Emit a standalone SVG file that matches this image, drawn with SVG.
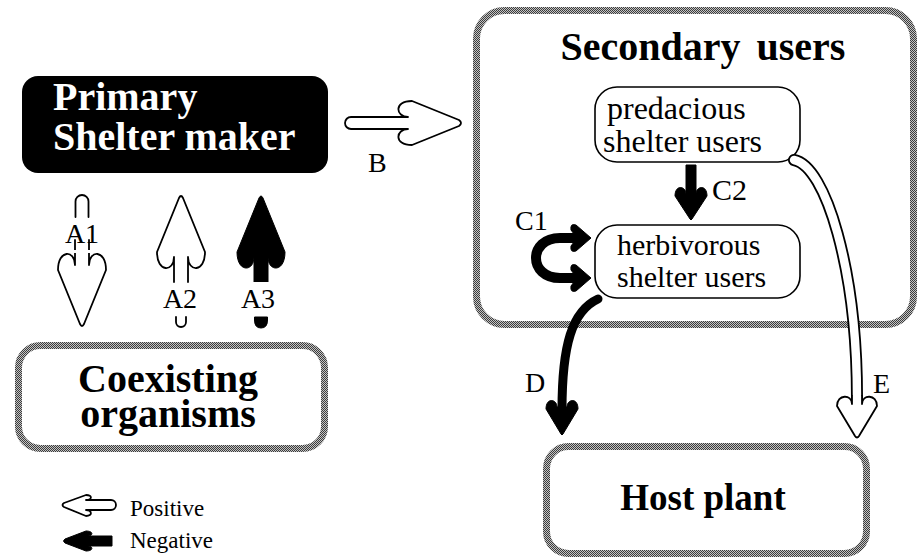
<svg xmlns="http://www.w3.org/2000/svg" width="918" height="558" viewBox="0 0 918 558">
<style>
.t{font-family:'Liberation Serif','DejaVu Serif',serif;fill:#000}
.b{font-weight:bold}
.w{fill:#fff}
.gbox{fill:#fff;stroke:url(#dither);stroke-width:7}
.sbox{fill:#fff;stroke:#000;stroke-width:1.6}
.hol{fill:#fff;stroke:#000;stroke-width:1.8;stroke-linejoin:round;stroke-linecap:round}
.neg{fill:#000;stroke:#000;stroke-width:1;stroke-linejoin:round}
.thick{fill:none;stroke:#000}
</style>
<defs>
<pattern id="dither" width="2" height="2" patternUnits="userSpaceOnUse">
<rect width="2" height="2" fill="#c4c4c4"/>
<rect width="1" height="1" fill="#3c3c3c"/>
<rect x="1" y="1" width="1" height="1" fill="#3c3c3c"/>
</pattern>
<path id="upHead" d="M -7 87 L -7 62 C -7 77 -24 78 -24 57 L -2 3 Q 0 -1 2 3 L 24 57 C 24 78 7 77 7 62 L 7 87"/>
</defs>

<g id="node-primary">
<rect x="22" y="76" width="306" height="97" rx="16" fill="#000"/>
<text class="t b w" font-family="Liberation Serif, serif" x="53" y="110" font-size="40">Primary</text>
<text class="t b w" font-family="Liberation Serif, serif" x="53" y="150" font-size="40">Shelter maker</text>
</g>

<g id="node-coexisting">
<rect class="gbox" x="18.5" y="345.5" width="306" height="103" rx="22"/>
<text class="t b" font-family="Liberation Serif, serif" x="168" y="392" font-size="40" text-anchor="middle">Coexisting</text>
<text class="t b" font-family="Liberation Serif, serif" x="168" y="427" font-size="40" text-anchor="middle">organisms</text>
</g>

<g id="node-secondary">
<rect class="gbox" x="476.5" y="10.5" width="437" height="314" rx="28"/>
<text class="t b" font-family="Liberation Serif, serif" x="703" y="60" font-size="40" text-anchor="middle" word-spacing="6">Secondary users</text>
</g>

<g id="node-predacious">
<rect class="sbox" x="595" y="87" width="205" height="75" rx="22"/>
<text class="t" font-family="Liberation Serif, serif" x="607" y="119" font-size="32">predacious</text>
<text class="t" font-family="Liberation Serif, serif" x="603" y="152" font-size="32">shelter users</text>
</g>

<g id="node-herbivorous">
<rect class="sbox" x="595" y="225" width="205" height="73" rx="22"/>
<text class="t" font-family="Liberation Serif, serif" x="617" y="255" font-size="30">herbivorous</text>
<text class="t" font-family="Liberation Serif, serif" x="617" y="287" font-size="30">shelter users</text>
</g>

<g id="node-host">
<rect class="gbox" x="546.5" y="446.5" width="320" height="107" rx="22"/>
<text class="t b" font-family="Liberation Serif, serif" x="703" y="510" font-size="37" text-anchor="middle">Host plant</text>
</g>

<g id="connectors">
<path class="hol" fill="none" d="M 75.5 217 L 75.5 201.5 A 6.5 6.5 0 0 1 88.5 201.5 L 88.5 217"/>
<use href="#upHead" class="hol" transform="translate(82,327) scale(1,-1)"/>
<rect x="74" y="250" width="16" height="3" fill="#fff"/>
<use href="#upHead" class="hol" transform="translate(181,195)"/>
<path class="hol" fill="none" d="M 176 317 L 176 322 A 5 5 0 0 0 186 322 L 186 317"/>
<use href="#upHead" class="neg" transform="translate(261,195)"/>
<path class="neg" d="M 254.5 317 L 267.5 317 L 267.5 320 Q 267.5 328 261 328 Q 254.5 328 254.5 320 Z"/>
<path class="hol" d="M 351 117 L 408 117 C 396 117 393 101 412 101 L 459 120 Q 463 123 459 126 L 412 145 C 393 145 396 129 408 129 L 351 129 A 6 6 0 0 1 351 117 Z"/>
<path class="neg" d="M 686 165 L 686 194 C 686 186 675 184 675 196 L 690 219 Q 691 221 692 219 L 707 196 C 707 184 696 186 696 194 L 696 165 Z"/>
<path class="thick" stroke-width="10" d="M 580 238 L 560 238 C 528 238 528 278 560 278 L 580 278"/>
<path class="neg" d="M 591 238 L 576 225 Q 570 223 571 230 L 577 238 L 571 246 Q 570 253 576 251 Z"/>
<path class="neg" d="M 591 278 L 576 265 Q 570 263 571 270 L 577 278 L 571 286 Q 570 293 576 291 Z"/>
<path class="thick" stroke-width="9" stroke-linecap="round" d="M 598 299 C 572 311 562 345 562 410"/>
<path class="neg" d="M 557 407 C 557 399 546 397 546 409 L 561 434 Q 562 436 563 434 L 578 409 C 578 397 567 399 567 407 Z"/>
<path fill="none" stroke="#000" stroke-width="12" stroke-linecap="round" d="M 794 160 C 826 166 857 270 857 398"/>
<path fill="none" stroke="#fff" stroke-width="8.4" stroke-linecap="round" d="M 794 160 C 826 166 857 270 857 398"/>
<path class="hol" d="M 852 396 L 852 404 C 852 394 837 394 837 406 L 855 436 Q 857 439 859 436 L 877 406 C 877 394 862 394 862 404 L 862 396"/>
<rect x="853" y="393" width="8" height="6" fill="#fff"/>
</g>

<g id="labels">
<text class="t" font-family="Liberation Serif, serif" x="82" y="243" font-size="28" text-anchor="middle">A1</text>
<text class="t" font-family="Liberation Serif, serif" x="180" y="308" font-size="28" text-anchor="middle">A2</text>
<text class="t" font-family="Liberation Serif, serif" x="258" y="308" font-size="28" text-anchor="middle">A3</text>
<text class="t" font-family="Liberation Serif, serif" x="368" y="172" font-size="28">B</text>
<text class="t" font-family="Liberation Serif, serif" x="515" y="230" font-size="28">C1</text>
<text class="t" font-family="Liberation Serif, serif" x="712" y="200" font-size="30">C2</text>
<text class="t" font-family="Liberation Serif, serif" x="525" y="392" font-size="28">D</text>
<text class="t" font-family="Liberation Serif, serif" x="873" y="393" font-size="28">E</text>
</g>

<g id="legend">
<path class="hol" d="M 111 500 L 86 500 C 92 500 93 495 86 495 L 64 503 Q 61 505 64 507 L 86 516 C 93 516 92 510 86 510 L 111 510 A 5 5 0 0 0 111 500 Z"/>
<text class="t" font-family="Liberation Serif, serif" x="130" y="516" font-size="23">Positive</text>
<path class="neg" d="M 112 536 L 88 536 C 93 536 94 531 86 531 L 65 539 Q 62 541 65 543 L 86 551 C 94 551 93 546 88 546 L 112 546 Z"/>
<text class="t" font-family="Liberation Serif, serif" x="130" y="548" font-size="23">Negative</text>
</g>
</svg>
